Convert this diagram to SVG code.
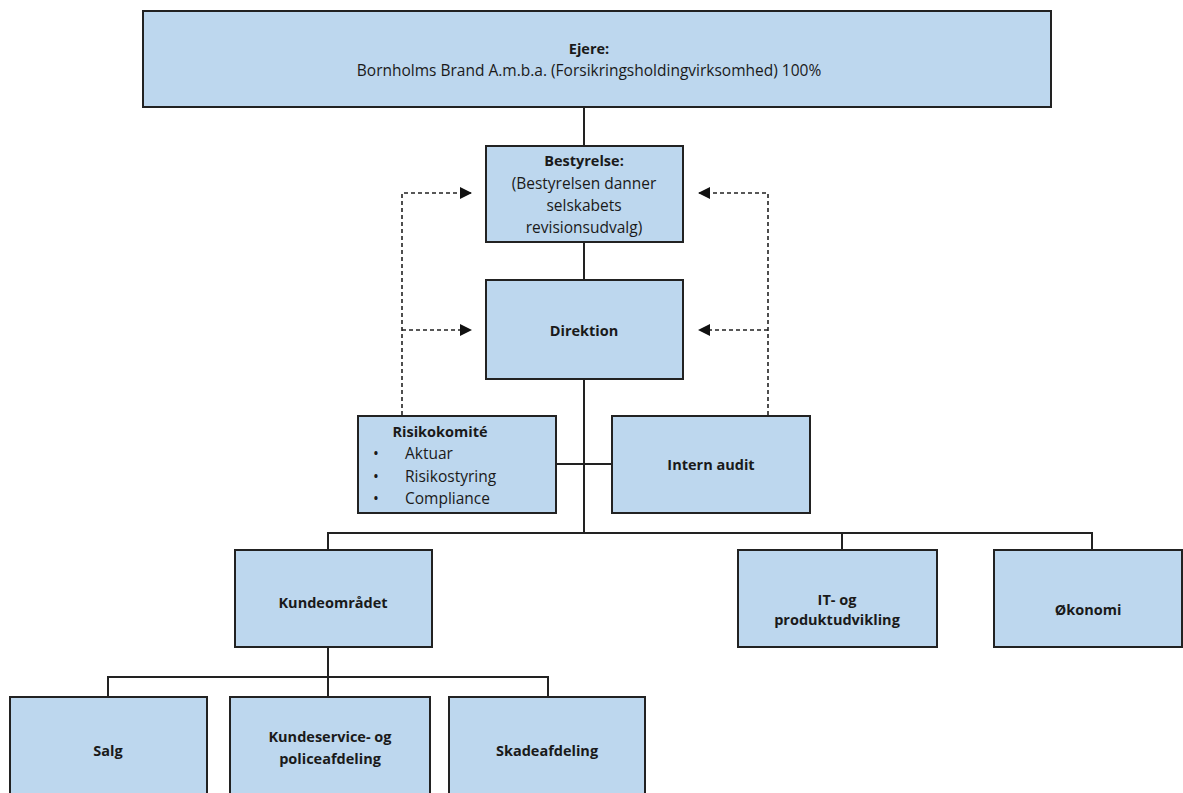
<svg xmlns="http://www.w3.org/2000/svg" width="1183" height="793" viewBox="0 0 1183 793">
<style>
.box{fill:#bdd7ee;stroke:#222;stroke-width:2}
.ln{fill:none;stroke:#222;stroke-width:2}
.dash{fill:none;stroke:#222;stroke-width:1.6;stroke-dasharray:4 3}
text{font-family:"Open Sans","Liberation Sans",sans-serif;font-size:15.5px;fill:#1a1a1a;text-anchor:middle}
.b{font-weight:bold;font-size:14.5px}
.l{text-anchor:start}
</style>
<defs>
<marker id="ah" viewBox="0 0 10 10" refX="10" refY="5" markerWidth="12" markerHeight="12" markerUnits="userSpaceOnUse" orient="auto">
<path d="M0,0 L10,5 L0,10 z" fill="#111"/>
</marker>
</defs>
<rect width="1183" height="793" fill="#fff"/>
<g id="connectors">
<line class="ln" x1="584" y1="107" x2="584" y2="146"/>
<line class="ln" x1="584" y1="242" x2="584" y2="280"/>
<line class="ln" x1="584" y1="379" x2="584" y2="533"/>
<line class="ln" x1="556" y1="464" x2="612" y2="464"/>
<path class="ln" d="M328,550 V533 H1092 V550"/>
<line class="ln" x1="842" y1="533" x2="842" y2="550"/>
<line class="ln" x1="328" y1="647" x2="328" y2="697"/>
<path class="ln" d="M108,697 V677 H548 V697"/>
<path class="dash" d="M402,415 V193 H472" marker-end="url(#ah)"/>
<path class="dash" d="M402,330 H472" marker-end="url(#ah)"/>
<path class="dash" d="M768,415 V193 H698" marker-end="url(#ah)"/>
<path class="dash" d="M768,330 H698" marker-end="url(#ah)"/>
</g>
<g id="ejere">
<rect class="box" x="143" y="11" width="908" height="96"/>
<text class="b" x="589" y="54">Ejere:</text>
<text x="589" y="76">Bornholms Brand A.m.b.a. (Forsikringsholdingvirksomhed) 100%</text>
</g>
<g id="bestyrelse">
<rect class="box" x="486" y="146" width="197" height="96"/>
<text class="b" x="584" y="166">Bestyrelse:</text>
<text x="584" y="189">(Bestyrelsen danner</text>
<text x="584" y="211">selskabets</text>
<text x="584" y="233">revisionsudvalg)</text>
</g>
<g id="direktion">
<rect class="box" x="486" y="280" width="197" height="99"/>
<text class="b" x="584" y="336">Direktion</text>
</g>
<g id="risikokomite">
<rect class="box" x="358" y="416" width="198" height="97"/>
<text class="b" x="440" y="437">Risikokomité</text>
<text class="l" x="373" y="459">•</text>
<text class="l" x="405" y="459">Aktuar</text>
<text class="l" x="373" y="482">•</text>
<text class="l" x="405" y="482">Risikostyring</text>
<text class="l" x="373" y="504">•</text>
<text class="l" x="405" y="504">Compliance</text>
</g>
<g id="internaudit">
<rect class="box" x="612" y="416" width="198" height="97"/>
<text class="b" x="711" y="470">Intern audit</text>
</g>
<g id="kundeomraadet">
<rect class="box" x="235" y="550" width="197" height="97"/>
<text class="b" x="333" y="608">Kundeområdet</text>
</g>
<g id="it">
<rect class="box" x="738" y="550" width="199" height="97"/>
<text class="b" x="837" y="605">IT- og</text>
<text class="b" x="837" y="625">produktudvikling</text>
</g>
<g id="oekonomi">
<rect class="box" x="994" y="550" width="188" height="97"/>
<text class="b" x="1088" y="615">Økonomi</text>
</g>
<g id="salg">
<rect class="box" x="10" y="697" width="197" height="100"/>
<text class="b" x="108" y="756">Salg</text>
</g>
<g id="kundeservice">
<rect class="box" x="230" y="697" width="200" height="100"/>
<text class="b" x="330" y="742">Kundeservice- og</text>
<text class="b" x="330" y="764">policeafdeling</text>
</g>
<g id="skade">
<rect class="box" x="449" y="697" width="196" height="100"/>
<text class="b" x="547" y="756">Skadeafdeling</text>
</g>
</svg>
